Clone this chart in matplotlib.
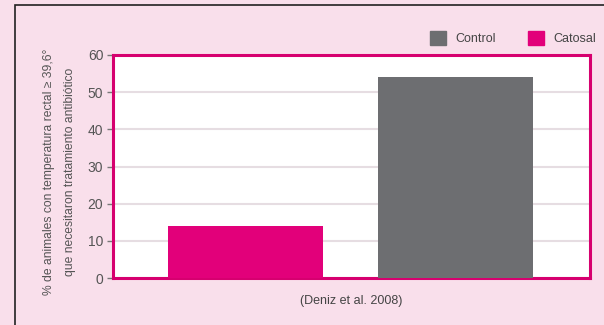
import matplotlib.pyplot as plt
from matplotlib.patches import Rectangle
from matplotlib import font_manager

groups = ["Catosal", "Control"]
values = [14, 54]
colors = ["#e2007a", "#6d6e71"]
yticks = [0, 10, 20, 30, 40, 50, 60]
ylabel = "% de animales con temperatura rectal ≥ 39,6°\nque necesitaron tratamiento antibiótico"
source = "(Deniz et al. 2008)"

names = {f.name for f in font_manager.fontManager.ttflist}
narrow = "Liberation Sans Narrow" if "Liberation Sans Narrow" in names else "Liberation Sans"
plt.rcParams["font.family"] = [narrow, "DejaVu Sans"]

fig = plt.figure(figsize=(6.04, 3.25), dpi=100, facecolor="#f9dfeb")
fig.patches.append(Rectangle((15 / 604, -0.1), 1.2, (325 - 5) / 325 + 0.1,
                             transform=fig.transFigure, fill=False,
                             edgecolor="#222222", linewidth=1.2))

ax = fig.add_axes([113 / 604, 47 / 325, 477 / 604, 223 / 325])
ax.set_facecolor("white")
x = range(len(groups))
bars = ax.bar(x, values, width=0.735, color=colors, zorder=3)
ax.set_xlim(-0.63, 1.64)
ax.set_ylim(0, 60)
ax.set_yticks(yticks)
ax.set_xticks([])
ax.yaxis.grid(True, color="#e6dde2", linewidth=1.5, zorder=0)
for s in ax.spines.values():
    s.set_color("#d6006f")
    s.set_linewidth(2.2)
ax.tick_params(axis="y", colors="#777777", labelcolor="#555555", labelsize=10,
               length=4, width=1, pad=3)
ax.set_ylabel(ylabel, fontsize=8.7, color="#555555", linespacing=2.0)
ax.yaxis.set_label_coords(-0.078, 0.475)
ax.set_xlabel(source, fontsize=9, color="#444444", labelpad=12)

handles = [Rectangle((0, 0), 1, 1, color=colors[1]), Rectangle((0, 0), 1, 1, color=colors[0])]
fig.legend(handles, ["Control", "Catosal"], loc="center right", bbox_to_anchor=(1.0, 1 - 38 / 325),
           ncol=2, frameon=False, fontsize=9, labelcolor="#444444",
           handlelength=1.3, handleheight=1.3, columnspacing=2.5, handletextpad=0.8,
           borderaxespad=0.2)

fig.savefig("out.png", dpi=100, facecolor=fig.get_facecolor())
